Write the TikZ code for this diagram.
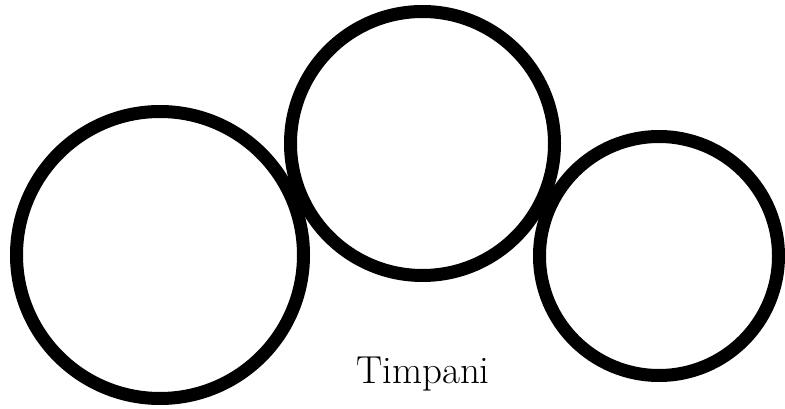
\documentclass[tikz,border=0pt]{standalone}
\usepackage{tikz}
\usetikzlibrary{positioning}
\tikzset{drum/.style={circle, draw=black, line width=13pt, inner sep=0pt}}

\begin{document}
\begin{tikzpicture}[x=1pt, y=-1pt]
	\useasboundingbox (0,0) rectangle (785,409);
	\foreach \name/\cx/\cy/\d in {left/160/255/287, middle/422.5/143.5/264, right/659/256/239} {
		\node[drum, minimum size=\d pt] (\name) at (\cx,\cy) {};
	}
	\node[anchor=base, inner sep=0pt, font=\fontsize{39}{42}\selectfont] (label) at (423,383) {Timpani};
\end{tikzpicture}
\end{document}
